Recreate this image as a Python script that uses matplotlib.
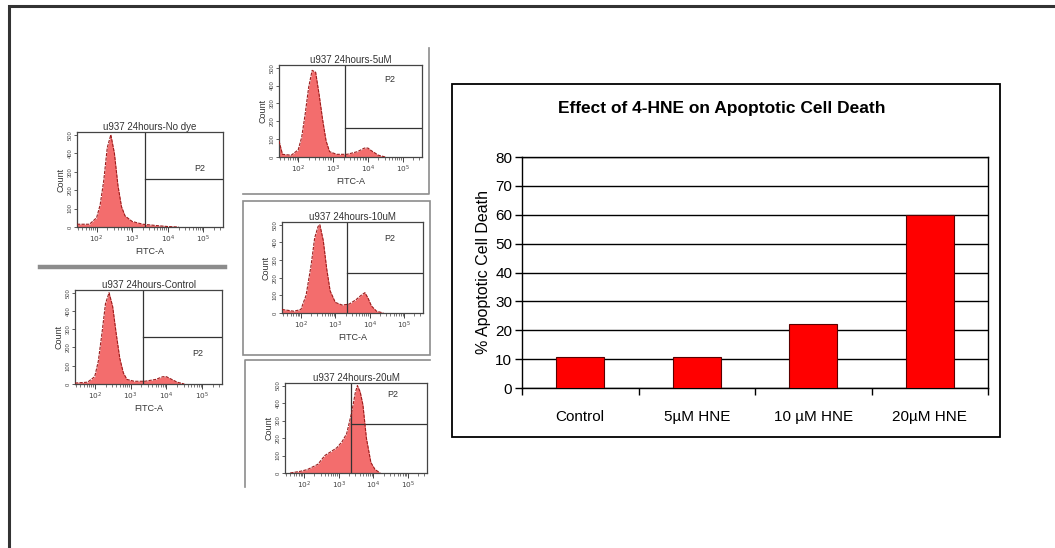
import numpy as np
import matplotlib
matplotlib.use("Agg")
import matplotlib.pyplot as plt
from matplotlib.patches import Rectangle

plt.rcParams['font.family'] = ['Liberation Sans', 'DejaVu Sans']

W, H = 1055, 548

# bar chart data
categories = ['Control', '5\u00b5M HNE', '10 \u00b5M HNE', '20\u00b5M HNE']
death_pct = [10.8, 10.8, 22.0, 60.0]

# flow cytometry histograms (x in decades of FITC-A, y as fraction of the peak count)
nodye_x = [1.45, 1.8, 2.0, 2.1, 2.2, 2.3, 2.4, 2.5, 2.6, 2.7, 2.8, 3.0, 3.3, 3.7, 4.0, 4.3]
nodye_y = [0.03, 0.03, 0.10, 0.24, 0.50, 0.86, 1.00, 0.80, 0.45, 0.22, 0.12, 0.06, 0.03, 0.015, 0.005, 0.0]

control_x = [1.45, 1.8, 2.0, 2.1, 2.2, 2.3, 2.4, 2.5, 2.6, 2.7, 2.8, 2.9, 3.1, 3.4, 3.7, 3.9, 4.0, 4.1, 4.3, 4.5]
control_y = [0.01, 0.02, 0.08, 0.25, 0.55, 0.88, 1.00, 0.85, 0.55, 0.28, 0.12, 0.05, 0.03, 0.03, 0.05, 0.08, 0.08, 0.06, 0.02, 0.0]

uM5_x = [1.45, 1.55, 1.8, 2.0, 2.1, 2.2, 2.3, 2.4, 2.5, 2.6, 2.7, 2.8, 2.9, 3.1, 3.4, 3.7, 3.9, 4.0, 4.1, 4.3, 4.5]
uM5_y = [0.18, 0.03, 0.02, 0.08, 0.22, 0.48, 0.78, 0.97, 0.95, 0.70, 0.42, 0.18, 0.06, 0.03, 0.03, 0.06, 0.10, 0.10, 0.07, 0.02, 0.0]

uM10_x = [1.45, 1.8, 2.0, 2.15, 2.3, 2.4, 2.5, 2.55, 2.65, 2.75, 2.85, 3.0, 3.2, 3.4, 3.6, 3.75, 3.86, 3.95, 4.05, 4.2, 4.4]
uM10_y = [0.04, 0.02, 0.04, 0.20, 0.55, 0.85, 0.98, 1.00, 0.82, 0.50, 0.25, 0.12, 0.09, 0.10, 0.15, 0.20, 0.23, 0.17, 0.08, 0.02, 0.0]

uM20_x = [1.6, 1.9, 2.1, 2.4, 2.6, 2.76, 2.95, 3.1, 3.23, 3.38, 3.48, 3.54, 3.62, 3.7, 3.8, 3.93, 4.05, 4.2]
uM20_y = [0.0, 0.02, 0.04, 0.10, 0.20, 0.24, 0.29, 0.36, 0.45, 0.70, 0.92, 1.00, 0.93, 0.78, 0.40, 0.12, 0.04, 0.0]

panel_titles = ['u937 24hours-No dye', 'u937 24hours-Control', 'u937 24hours-5uM',
                'u937 24hours-10uM', 'u937 24hours-20uM']
gate_y = [0.52, 0.51, 0.33, 0.45, 0.56]
p2_pos = [(4.9, 0.63), (4.86, 0.33), (4.63, 0.87), (4.57, 0.84), (4.57, 0.9)]
count_ticks = ['0', '100', '200', '300', '400', '500']
GATE_X = 3.35


def px(x0, y0, x1, y1):
    return [x0 / W, 1 - y1 / H, (x1 - x0) / W, (y1 - y0) / H]


fig = plt.figure(figsize=(W / 100, H / 100), dpi=100)

# background layer for frames in pixel coords
bg = fig.add_axes([0, 0, 1, 1])
bg.set_xlim(0, W)
bg.set_ylim(H, 0)
bg.axis('off')
bg.plot([9, 9, W], [H, 6, 6], color='#333333', lw=2.2, solid_joinstyle='miter')
bg.add_patch(Rectangle((452, 84), 548, 353, fill=False, ec='black', lw=1.3))
# flow panel frames
fc = '#8c8c8c'
bg.plot([40, 225], [267, 267], color=fc, lw=3.2)
bg.plot([243, 429, 429], [194, 194, 48], color=fc, lw=1.2)
bg.add_patch(Rectangle((243, 201), 187, 154, fill=False, ec=fc, lw=1.2))
bg.plot([245, 245, 430], [487, 360, 360], color=fc, lw=1.2)


def draw_flow(rect, xs, ys, title, gy, p2):
    ax = fig.add_axes(px(*rect))
    ax.fill_between(xs, ys, color='#f36d6d', lw=0, zorder=2)
    ax.plot(xs, ys, color='#9c1c1c', lw=0.8, ls=(0, (3, 1)), zorder=3)
    ax.set_xlim(1.45, 5.55)
    ax.set_ylim(0, 1.03)
    ax.axvline(GATE_X, color='#333333', lw=0.9)
    ax.plot([GATE_X, 5.55], [gy, gy], color='#333333', lw=0.9)
    ax.text(p2[0], p2[1], 'P2', fontsize=6.5, ha='center', va='center', color='#333333')
    for s in ax.spines.values():
        s.set_color('#444444')
        s.set_linewidth(0.9)
    ax.set_xticks([2, 3, 4, 5])
    ax.set_xticklabels(['$10^2$', '$10^3$', '$10^4$', '$10^5$'], fontsize=5.3, color='#444444')
    minors = [d + np.log10(k) for d in range(1, 6) for k in range(2, 10)]
    ax.set_xticks([m for m in minors if 1.45 < m < 5.55], minor=True)
    ax.tick_params(axis='x', which='major', length=3.5, width=0.7, pad=1, color='#444444')
    ax.tick_params(axis='x', which='minor', length=2, width=0.5, color='#444444')
    ax.set_yticks([0, 0.2, 0.4, 0.6, 0.8, 1.0])
    ax.set_yticklabels(count_ticks, fontsize=4.2, rotation=90, va='center', color='#444444')
    ax.tick_params(axis='y', length=2.5, width=0.6, pad=0.8, color='#444444')
    ax.set_xlabel('FITC-A', fontsize=6.5, labelpad=1.5, color='#333333')
    ax.set_ylabel('Count', fontsize=6.5, labelpad=1.5, color='#333333')
    ax.set_title(title, fontsize=7, pad=0.3, color='#333333')
    return ax


draw_flow((77, 132, 223, 227), nodye_x, nodye_y, panel_titles[0], gate_y[0], p2_pos[0])
draw_flow((75, 290, 222, 384), control_x, control_y, panel_titles[1], gate_y[1], p2_pos[1])
draw_flow((279, 65, 422, 157), uM5_x, uM5_y, panel_titles[2], gate_y[2], p2_pos[2])
draw_flow((282, 222, 423, 313), uM10_x, uM10_y, panel_titles[3], gate_y[3], p2_pos[3])
ax5 = draw_flow((285, 383, 427, 473), uM20_x, uM20_y, panel_titles[4], gate_y[4], p2_pos[4])
ax5.set_xlabel('')

# the last panel is cropped at the bottom
bg2 = fig.add_axes([0, 0, 1, 1], zorder=5)
bg2.set_xlim(0, W)
bg2.set_ylim(H, 0)
bg2.axis('off')
bg2.add_patch(Rectangle((240, 488), 200, 60, fc='white', ec='none'))

# bar chart
ax = fig.add_axes(px(522, 157, 988, 388))
xpos = np.arange(len(categories))
ax.bar(xpos, death_pct, width=0.41, color='#ff0000', edgecolor='#5a0000', linewidth=0.8, zorder=3)
ax.set_xlim(-0.5, len(categories) - 0.5)
ax.set_ylim(0, 80)
ax.set_yticks(np.arange(0, 81, 10))
ax.yaxis.grid(True, color='black', lw=1.0)
ax.set_axisbelow(True)
for s in ax.spines.values():
    s.set_color('black')
    s.set_linewidth(1.0)
ax.set_xticks(xpos)
ax.set_xticklabels(categories, fontsize=11)
ax.set_xticks(np.arange(-0.5, len(categories)), minor=True)
ax.tick_params(axis='x', which='major', length=0, pad=16)
ax.tick_params(axis='x', which='minor', length=5, width=1.0, direction='out')
ax.tick_params(axis='y', length=5, width=1.0, labelsize=11, pad=2)
ax.set_ylabel('% Apoptotic Cell Death', fontsize=11.5, labelpad=3)
fig.text(722 / W, 1 - 108 / H, 'Effect of 4-HNE on Apoptotic Cell Death',
         fontsize=12.5, fontweight='bold', ha='center', va='center')

fig.savefig('out.png', dpi=100)
